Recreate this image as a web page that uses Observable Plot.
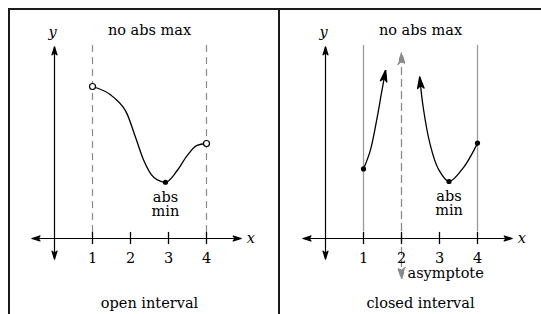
<!DOCTYPE html>
<html>
<head>
<meta charset="utf-8">
<script src="https://cdn.jsdelivr.net/npm/d3@7"></script>
<script src="https://cdn.jsdelivr.net/npm/@observablehq/plot@0.6"></script>
<style>
  html, body { margin: 0; padding: 0; background: white; overflow: hidden; }
  #wrap { position: relative; width: 541px; height: 314px; overflow: hidden; background: white; }
  .panel { position: absolute; top: 0; width: 271px; height: 314px; }
  .panel svg { max-width: none !important; }
  .line { position: absolute; background: #1a1a1a; z-index: 5; }
</style>
</head>
<body>
<div id="wrap">
  <div class="panel" id="left" style="left:8px"></div>
  <div class="panel" id="right" style="left:279px"></div>
  <div class="line" style="left:8px; top:8px; width:533px; height:2px"></div>
  <div class="line" style="left:8px; top:8px; width:1.6px; height:306px"></div>
  <div class="line" style="left:278.2px; top:8px; width:2px; height:306px"></div>
</div>
<script>
// ---- data ----
const ticks = [1, 2, 3, 4];
const tickLabels = ["1", "2", "3", "4"];

// open interval curve (left panel)
const openX = [1, 1.55, 1.91, 2.13, 2.35, 2.61, 2.92, 3.23, 3.49, 3.75, 4];
const openY = [4, 3.72, 3.28, 2.67, 2.05, 1.61, 1.48, 1.79, 2.18, 2.45, 2.5];
const openEndsX = [1, 4];
const openEndsY = [4, 2.5];
const openMinX = [2.92];
const openMinY = [1.48];

// closed interval curve (right panel), two branches around asymptote x = 2
const leftBranchX = [1, 1.18, 1.36, 1.47, 1.58];
const leftBranchY = [1.83, 2.32, 3.19, 3.81, 4.42];
const rightBranchX = [2.48, 2.57, 2.75, 2.97, 3.25, 3.64, 4];
const rightBranchY = [4.24, 3.46, 2.49, 1.83, 1.5, 1.88, 2.51];
const closedDotsX = [1, 3.25, 4];
const closedDotsY = [1.83, 1.5, 2.51];
const closedMinX = [3.25];
const closedMinY = [1.5];
const asymptoteX = 2;

// axis extents (data units)
const axisXRange = [-0.58, 4.9];
const axisYRange = [-0.53, 5.03];
const guideTop = 5.08;

const zip = (xs, ys) => xs.map((x, i) => [x, ys[i]]);

// stealth arrowhead marker
function stealth(len, wid) {
  return (color) => {
    const ns = "http://www.w3.org/2000/svg";
    const m = document.createElementNS(ns, "marker");
    m.setAttribute("viewBox", `${-len - 1} ${-wid / 2 - 1} ${len + 2} ${wid + 2}`);
    m.setAttribute("markerWidth", len + 2);
    m.setAttribute("markerHeight", wid + 2);
    m.setAttribute("markerUnits", "userSpaceOnUse");
    m.setAttribute("orient", "auto-start-reverse");
    m.setAttribute("refX", 0);
    m.setAttribute("refY", 0);
    const p = document.createElementNS(ns, "path");
    p.setAttribute("d", `M0.5,0L${-len},${-wid / 2}L${-len * 0.72},0L${-len},${wid / 2}Z`);
    p.setAttribute("fill", color);
    m.appendChild(p);
    return m;
  };
}
const axisArrow = stealth(7.5, 5);
const curveArrow = stealth(11, 6.5);
const asymArrow = stealth(11, 7.5);

const font = "DejaVu Serif";
const fs = 14.5;

function panel(opts) {
  const marks = [];
  marks.push(...opts.guides);
  // axes
  marks.push(Plot.line([[axisXRange[0], 0], [axisXRange[1], 0]], {stroke: "black", strokeWidth: 1.2, markerStart: axisArrow, markerEnd: axisArrow}));
  marks.push(Plot.line([[0, axisYRange[0]], [0, axisYRange[1]]], {stroke: "black", strokeWidth: 1.2, markerStart: axisArrow, markerEnd: axisArrow}));
  // ticks
  marks.push(Plot.ruleX(ticks, {x: d => d, y1: -0.16, y2: 0.16, stroke: "black", strokeWidth: 1.3}));
  marks.push(Plot.text(ticks, {x: d => d, y: 0, text: (d, i) => tickLabels[i], dy: 24, lineAnchor: "bottom", fontFamily: font, fontSize: fs, fill: "black"}));
  // axis letters
  marks.push(Plot.text(["y"], {x: 0, y: axisYRange[1], text: d => d, dx: -2, dy: -10, lineAnchor: "bottom", fontFamily: font, fontStyle: "italic", fontSize: fs, fill: "black"}));
  marks.push(Plot.text(["x"], {x: axisXRange[1], y: 0, text: d => d, dx: 6, dy: 4, textAnchor: "start", lineAnchor: "bottom", fontFamily: font, fontStyle: "italic", fontSize: fs, fill: "black"}));
  // titles
  marks.push(Plot.text(["no abs max"], {x: 2.5, y: 5, text: d => d, dy: -14, lineAnchor: "bottom", fontFamily: font, fontSize: fs, fill: "black"}));
  marks.push(Plot.text([opts.caption], {x: 2.5, y: 0, text: d => d, dy: 69, lineAnchor: "bottom", fontFamily: font, fontSize: fs, fill: "black"}));
  marks.push(...opts.curves);
  marks.push(Plot.text(["abs\nmin"], {x: opts.minX[0], y: opts.minY[0], text: d => d, dy: 9, lineAnchor: "top", lineHeight: 1, fontFamily: font, fontSize: fs, fill: "black"}));
  return Plot.plot({
    width: 271,
    height: 314,
    margin: 0,
    style: {background: "transparent", overflow: "visible", maxWidth: "none"},
    x: {domain: [0, 4], range: [46, 198], axis: null},
    y: {domain: [0, 5], range: [238, 48], axis: null},
    marks
  });
}

const leftPlot = panel({
  caption: "open interval",
  minX: openMinX, minY: openMinY,
  guides: [
    Plot.ruleX(openEndsX, {x: d => d, y1: guideTop, y2: 0.15, stroke: "#8a8a8a", strokeWidth: 1.2, strokeDasharray: "7,5"})
  ],
  curves: [
    Plot.line(zip(openX, openY), {curve: "monotone-x", stroke: "black", strokeWidth: 1.3}),
    Plot.dot(zip(openMinX, openMinY), {r: 2.6, fill: "black", stroke: "none"}),
    Plot.dot(zip(openEndsX, openEndsY), {r: 3, fill: "white", stroke: "black", strokeWidth: 1.2})
  ]
});

const rightPlot = panel({
  caption: "closed interval",
  minX: closedMinX, minY: closedMinY,
  guides: [
    Plot.ruleX([1, 4], {x: d => d, y1: guideTop, y2: 0.18, stroke: "#9a9a9a", strokeWidth: 1.3}),
    Plot.line([[asymptoteX, -1.05], [asymptoteX, 4.87]], {stroke: "#8a8a8a", strokeWidth: 1.3, strokeDasharray: "7,5", markerStart: asymArrow, markerEnd: asymArrow}),
    Plot.text(["asymptote"], {x: asymptoteX, y: 0, text: d => d, dx: 6, dy: 39, textAnchor: "start", lineAnchor: "bottom", fontFamily: font, fontSize: fs, fill: "black"})
  ],
  curves: [
    Plot.line(zip(leftBranchX, leftBranchY), {curve: "catmull-rom", stroke: "black", strokeWidth: 1.3, markerEnd: curveArrow}),
    Plot.line(zip(rightBranchX, rightBranchY), {curve: "catmull-rom", stroke: "black", strokeWidth: 1.3, markerStart: curveArrow}),
    Plot.dot(zip(closedDotsX, closedDotsY), {r: 2.6, fill: "black", stroke: "none"})
  ]
});

document.getElementById("left").appendChild(leftPlot);
document.getElementById("right").appendChild(rightPlot);
</script>
</body>
</html>
